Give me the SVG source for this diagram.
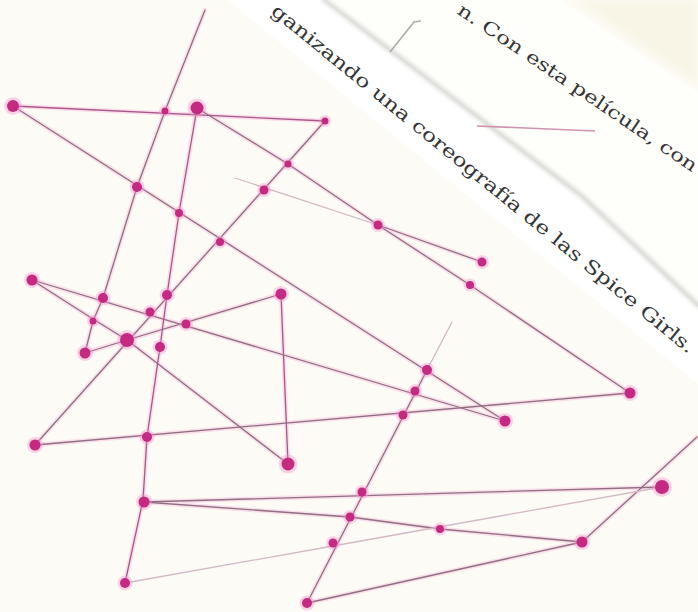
<svg xmlns="http://www.w3.org/2000/svg" xmlns:xlink="http://www.w3.org/1999/xlink" width="698" height="612" viewBox="0 0 698 612">
<style>
.ln{fill:none;stroke:#8e7080;stroke-width:1.3;stroke-linecap:round;stroke-linejoin:round}
.mg{stroke:#a9568b}
.halo{fill:none;stroke:#f6b3da;stroke-width:4.5;stroke-linecap:round;stroke-linejoin:round;opacity:.4}
.fnt{fill:none;stroke:#d3b8c6;stroke-width:1.3;stroke-linecap:round}
.dot{fill:#c42a82}
.dh{fill:#f597cf;opacity:.4}
.txt{font-family:"DejaVu Serif","Liberation Serif",serif;fill:#363636}
</style>
<defs>
<filter id="blur" x="-20%" y="-20%" width="140%" height="140%"><feGaussianBlur stdDeviation="2"/></filter>
<filter id="blur4" x="-20%" y="-20%" width="140%" height="140%"><feGaussianBlur stdDeviation="5"/></filter>
<path id="p1" d="M13,106 L325,121"/>
<path id="p2" d="M325,121 L35,445"/>
<path id="p3" d="M13,106 L505,421"/>
<path id="p4" d="M197,108 L288,164 L378,225 L470,285 L630,393"/>
<path id="p5" d="M205,10 L165,111 L137,187 L103,298 L93,321 L85,353 L127,340 L281,294"/>
<path id="p6" d="M32,280 L93,319 L127,340 L288,464"/>
<path id="p6b" d="M288,464 L281,294"/>
<path id="p7" d="M32,280 L505,421"/>
<path id="p8" d="M197,108 L179,213 L167,295 L160,347 L147,437 L143,500 L125,583"/>
<path id="p9" d="M35,445 L630,393"/>
<path id="p10" d="M144,502 L662,487"/>
<path id="p11" d="M144,502 L350,517 L440,529 L582,542 L697,437"/>
<path id="p12" d="M307,603 L582,542"/>
<path id="p13" d="M307,603 L427,370"/>
<path id="p15" d="M378,225 L482,262"/>
</defs>
<rect width="698" height="612" fill="#fdfbf5"/>
<g id="paper-strips">
<polygon points="228,0 325,0 583,197 698,305 698,384" fill="#ffffff"/>
<polygon points="325,0 560,0 698,92 698,305 583,197" fill="#fefefb"/>
<polygon points="575,0 698,0 698,85" fill="#f8f5e6" filter="url(#blur4)"/>
<polyline points="322,-2 583,197 700,307" fill="none" stroke="#d2d2ce" stroke-width="4" filter="url(#blur)"/>
<polyline points="324,0 583,197 698,306" fill="none" stroke="#dcdcd8" stroke-width="1"/>
<path d="M477,126 L595,131" fill="none" stroke="#cf93ae" stroke-width="1.6"/>
<path d="M390,52 L414,22 L421,21" fill="none" stroke="#ababab" stroke-width="1.6"/>
</g>
<g id="connectors">
<g class="halo">
<use xlink:href="#p1"/><use xlink:href="#p2"/><use xlink:href="#p3"/><use xlink:href="#p4"/><use xlink:href="#p5"/><use xlink:href="#p6"/><use xlink:href="#p6b"/><use xlink:href="#p7"/><use xlink:href="#p8"/><use xlink:href="#p9"/><use xlink:href="#p10"/><use xlink:href="#p11"/><use xlink:href="#p12"/><use xlink:href="#p13"/><use xlink:href="#p15"/>
</g>
<g class="ln">
<use class="mg" xlink:href="#p1"/><use xlink:href="#p2"/><use xlink:href="#p3"/><use xlink:href="#p4"/><use xlink:href="#p5"/><use xlink:href="#p6"/><use class="mg" xlink:href="#p6b"/><use xlink:href="#p7"/><use class="mg" xlink:href="#p8"/><use xlink:href="#p9"/><use xlink:href="#p10"/><use xlink:href="#p11"/><use xlink:href="#p12"/><use xlink:href="#p13"/><use xlink:href="#p15"/>
</g>
<path class="fnt" d="M427,370 L452,322"/>
<path class="fnt" d="M235,178 L378,225"/>
<path class="fnt" d="M125,583 L333,546 L662,487"/>
</g>
<g id="nodes">
<g id="n-A"><circle class="dh" cx="13" cy="106" r="9"/><circle class="dot" cx="13" cy="106" r="6"/></g>
<g id="n-B"><circle class="dh" cx="165" cy="111" r="6"/><circle class="dot" cx="165" cy="111" r="3.5"/></g>
<g id="n-C"><circle class="dh" cx="197" cy="108" r="9.5"/><circle class="dot" cx="197" cy="108" r="6.5"/></g>
<g id="n-D"><circle class="dh" cx="325" cy="121" r="6"/><circle class="dot" cx="325" cy="121" r="3.5"/></g>
<g id="n-E"><circle class="dh" cx="288" cy="164" r="6"/><circle class="dot" cx="288" cy="164" r="3.5"/></g>
<g id="n-F"><circle class="dh" cx="264" cy="190" r="7"/><circle class="dot" cx="264" cy="190" r="4.5"/></g>
<g id="n-G"><circle class="dh" cx="137" cy="187" r="7.5"/><circle class="dot" cx="137" cy="187" r="5"/></g>
<g id="n-H"><circle class="dh" cx="179" cy="213" r="6.5"/><circle class="dot" cx="179" cy="213" r="4"/></g>
<g id="n-I"><circle class="dh" cx="378" cy="225" r="7"/><circle class="dot" cx="378" cy="225" r="4.5"/></g>
<g id="n-J"><circle class="dh" cx="220" cy="242" r="6.5"/><circle class="dot" cx="220" cy="242" r="4"/></g>
<g id="n-K"><circle class="dh" cx="482" cy="262" r="7"/><circle class="dot" cx="482" cy="262" r="4.5"/></g>
<g id="n-L"><circle class="dh" cx="470" cy="285" r="6.5"/><circle class="dot" cx="470" cy="285" r="4"/></g>
<g id="n-M"><circle class="dh" cx="32" cy="280" r="8"/><circle class="dot" cx="32" cy="280" r="5.5"/></g>
<g id="n-N"><circle class="dh" cx="281" cy="294" r="8"/><circle class="dot" cx="281" cy="294" r="5.5"/></g>
<g id="n-O"><circle class="dh" cx="103" cy="298" r="7.5"/><circle class="dot" cx="103" cy="298" r="5"/></g>
<g id="n-P"><circle class="dh" cx="167" cy="295" r="7.5"/><circle class="dot" cx="167" cy="295" r="5"/></g>
<g id="n-Q"><circle class="dh" cx="150" cy="312" r="7"/><circle class="dot" cx="150" cy="312" r="4.5"/></g>
<g id="n-R"><circle class="dh" cx="93" cy="321" r="6"/><circle class="dot" cx="93" cy="321" r="3.5"/></g>
<g id="n-S"><circle class="dh" cx="186" cy="324" r="7"/><circle class="dot" cx="186" cy="324" r="4.5"/></g>
<g id="n-T"><circle class="dh" cx="127" cy="340" r="10"/><circle class="dot" cx="127" cy="340" r="7"/></g>
<g id="n-U"><circle class="dh" cx="85" cy="353" r="8"/><circle class="dot" cx="85" cy="353" r="5.5"/></g>
<g id="n-V"><circle class="dh" cx="160" cy="347" r="7.5"/><circle class="dot" cx="160" cy="347" r="5"/></g>
<g id="n-W"><circle class="dh" cx="427" cy="370" r="7.5"/><circle class="dot" cx="427" cy="370" r="5"/></g>
<g id="n-X"><circle class="dh" cx="415" cy="391" r="7"/><circle class="dot" cx="415" cy="391" r="4.5"/></g>
<g id="n-Y"><circle class="dh" cx="630" cy="393" r="8"/><circle class="dot" cx="630" cy="393" r="5.5"/></g>
<g id="n-Z"><circle class="dh" cx="403" cy="415" r="7"/><circle class="dot" cx="403" cy="415" r="4.5"/></g>
<g id="n-AA"><circle class="dh" cx="505" cy="421" r="8"/><circle class="dot" cx="505" cy="421" r="5.5"/></g>
<g id="n-AB"><circle class="dh" cx="35" cy="445" r="8"/><circle class="dot" cx="35" cy="445" r="5.5"/></g>
<g id="n-AC"><circle class="dh" cx="147" cy="437" r="7.5"/><circle class="dot" cx="147" cy="437" r="5"/></g>
<g id="n-AD"><circle class="dh" cx="288" cy="464" r="9.5"/><circle class="dot" cx="288" cy="464" r="6.5"/></g>
<g id="n-AE"><circle class="dh" cx="362" cy="492" r="7"/><circle class="dot" cx="362" cy="492" r="4.5"/></g>
<g id="n-AF"><circle class="dh" cx="144" cy="502" r="8"/><circle class="dot" cx="144" cy="502" r="5.5"/></g>
<g id="n-AG"><circle class="dh" cx="662" cy="487" r="10"/><circle class="dot" cx="662" cy="487" r="7"/></g>
<g id="n-AH"><circle class="dh" cx="350" cy="517" r="7"/><circle class="dot" cx="350" cy="517" r="4.5"/></g>
<g id="n-AI"><circle class="dh" cx="440" cy="529" r="6.5"/><circle class="dot" cx="440" cy="529" r="4"/></g>
<g id="n-AJ"><circle class="dh" cx="582" cy="542" r="8"/><circle class="dot" cx="582" cy="542" r="5.5"/></g>
<g id="n-AK"><circle class="dh" cx="333" cy="543" r="7"/><circle class="dot" cx="333" cy="543" r="4.5"/></g>
<g id="n-AL"><circle class="dh" cx="125" cy="583" r="7.5"/><circle class="dot" cx="125" cy="583" r="5"/></g>
<g id="n-AM"><circle class="dh" cx="307" cy="603" r="7.5"/><circle class="dot" cx="307" cy="603" r="5"/></g>
</g>
<g id="texts">
<text class="txt" font-size="18.5" transform="translate(270,13) rotate(39.2)" textLength="540" lengthAdjust="spacingAndGlyphs">ganizando una coreografía de las Spice Girls.</text>
<text class="txt" font-size="18" transform="translate(456,13) rotate(34)" textLength="285" lengthAdjust="spacingAndGlyphs">n. Con esta película, con</text>
</g>
</svg>
